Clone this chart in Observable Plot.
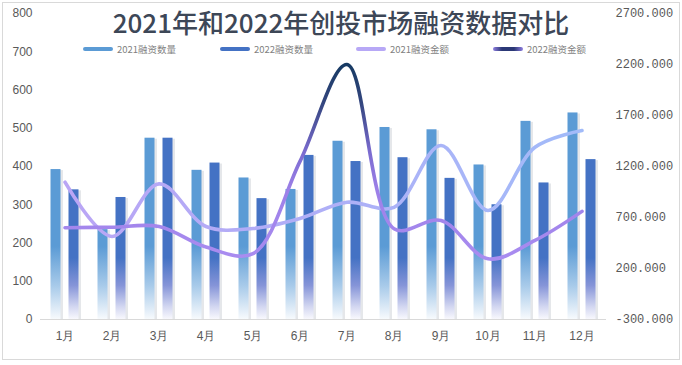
<!DOCTYPE html>
<html>
<head>
<meta charset="utf-8">
<script src="https://cdn.jsdelivr.net/npm/d3@7"></script>
<script src="https://cdn.jsdelivr.net/npm/@observablehq/plot@0.6"></script>
<style>
  html, body { margin: 0; padding: 0; background: #fff; }
  #wrap { position: relative; width: 682px; height: 365px; overflow: hidden; font-family: "Noto Sans CJK SC", "Noto Sans", sans-serif; }
  #border { position: absolute; left: 2px; top: 2px; width: 676px; height: 356px; border: 1px solid #d9d9d9; pointer-events: none; }
  #title { position: absolute; left: 0; width: 682px; top: 5px; text-align: center; font-size: 26px; font-weight: 500; color: #3d4757; line-height: 34px; }
  .lg { position: absolute; top: 41px; height: 16px; display: flex; align-items: center; font-size: 9.5px; color: #7f7f7f; white-space: nowrap; }
  .sw { width: 30px; height: 4px; border-radius: 2px; margin-right: 4px; }
  #chart { position: absolute; left: 0; top: 0; }
</style>
</head>
<body>
<div id="wrap">
  <div id="chart"></div>
  <div id="title">2021年和2022年创投市场融资数据对比</div>
  <div id="legend"></div>
  <div id="border"></div>
</div>
<script>
const months = ["1月","2月","3月","4月","5月","6月","7月","8月","9月","10月","11月","12月"];
const count2021 = [392, 235, 474, 390, 370, 340, 466, 502, 496, 404, 518, 540];
const count2022 = [339, 319, 474, 409, 316, 429, 413, 423, 369, 300, 357, 418];
const amount2021 = [1046, 514, 1030, 612, 592, 690, 850, 800, 1406, 769, 1389, 1553];
const amount2022 = [600, 605, 612, 410, 345, 1250, 2200, 590, 670, 295, 475, 760];
const leftTicks = [0, 100, 200, 300, 400, 500, 600, 700, 800];
const rightTicks = [-300, 200, 700, 1200, 1700, 2200, 2700];
const seriesNames = ["2021融资数量", "2022融资数量", "2021融资金额", "2022融资金额"];

// right axis [-300, 2700] is aligned to left axis [0, 800]
const rMin = -300, rMax = 2700, lMax = 800;
const toLeft = v => (v - rMin) * lMax / (rMax - rMin);

const data = months.map((m, i) => ({
  month: m, c21: count2021[i], c22: count2022[i], a21: amount2021[i], a22: amount2022[i]
}));

const axisFont = {fontSize: 12, fill: "#595959"};

const plot = Plot.plot({
  width: 682,
  height: 365,
  marginLeft: 40,
  marginRight: 76,
  marginTop: 13,
  marginBottom: 46,
  style: {fontFamily: "Liberation Sans, Arial, sans-serif", fontSize: "12px", color: "#595959", background: "transparent"},
  x: {type: "band", domain: months, padding: 0},
  y: {domain: [0, lMax]},
  marks: [
    // bar shadows
    Plot.barY(data, {x: "month", y: "c21", fill: "#c5cad1", fillOpacity: 0.45, insetLeft: 11.5, insetRight: 25, dy: 1}),
    Plot.barY(data, {x: "month", y: "c22", fill: "#c5cad1", fillOpacity: 0.45, insetLeft: 29.5, insetRight: 7, dy: 1}),
    Plot.barY(data, {x: "month", y: "c21", fill: "url(#g21)", insetLeft: 9.5, insetRight: 27.5}),
    Plot.barY(data, {x: "month", y: "c22", fill: "url(#g22)", insetLeft: 27.5, insetRight: 9.5}),
    Plot.ruleY([0], {stroke: "#d9d9d9", strokeWidth: 1}),
    Plot.line(data, {x: "month", y: d => toLeft(d.a21), stroke: "url(#l21)", strokeWidth: 3.6, curve: "catmull-rom", strokeLinecap: "round"}),
    Plot.line(data, {x: "month", y: d => toLeft(d.a22), stroke: "url(#l22)", strokeWidth: 3.6, curve: "catmull-rom", strokeLinecap: "round"}),
    Plot.axisY(leftTicks, {anchor: "left", tickSize: 0, tickPadding: 8, label: null, ...axisFont}),
    Plot.axisY(rightTicks.map(toLeft), {anchor: "right", tickSize: 0, tickPadding: 9, label: null,
      tickFormat: (d) => rightTicks[rightTicks.map(toLeft).indexOf(d)].toFixed(3),
      fontFamily: "Liberation Mono, DejaVu Sans Mono, monospace", ...axisFont}),
    Plot.axisX({anchor: "bottom", tickSize: 0, tickPadding: 12, label: null, ...axisFont})
  ]
});

document.getElementById("chart").appendChild(plot);

// gradients (positions derived from the plot's scales)
const ys = plot.scale("y");
const xs = plot.scale("x");
const defs = d3.select(plot).insert("defs", ":first-child");
function grad(id, x1, y1, x2, y2, stops) {
  const g = defs.append("linearGradient").attr("id", id).attr("gradientUnits", "userSpaceOnUse")
    .attr("x1", x1).attr("y1", y1).attr("x2", x2).attr("y2", y2);
  stops.forEach(([o, c]) => g.append("stop").attr("offset", o).attr("stop-color", c));
}
grad("g21", 0, ys.apply(190), 0, ys.apply(0), [[0, "#5b9bd5"], [0.55, "#a9cbea"], [1, "#f7fafd"]]);
grad("g22", 0, ys.apply(160), 0, ys.apply(0), [[0, "#4472c4"], [0.45, "#8594d8"], [0.8, "#d3d7f1"], [1, "#f8f8fd"]]);
const x0 = xs.range[0], x1 = xs.range[1];
grad("l21", x0, 0, x1, 0, [[0, "#baa5f5"], [0.5, "#aeb0f7"], [1, "#9fbdf9"]]);
grad("l22", 0, ys.apply(toLeft(2200)), 0, ys.apply(toLeft(300)),
  [[0, "#173a63"], [0.2, "#34467f"], [0.45, "#7a6bcf"], [0.65, "#9d80e8"], [1, "#a98cf0"]]);

// legend
const legendColors = ["#5b9bd5", "#4472c4", "#b7a8f6", "linear-gradient(90deg,#8f7ee0,#2b3876 30%,#2b3876 70%,#8f7ee0)"];
const legendX = [83, 220, 356, 493];
const lg = document.getElementById("legend");
seriesNames.forEach((name, i) => {
  const item = document.createElement("div");
  item.className = "lg";
  item.style.left = legendX[i] + "px";
  const sw = document.createElement("div");
  sw.className = "sw";
  sw.style.background = legendColors[i];
  item.appendChild(sw);
  const t = document.createElement("span");
  t.textContent = name;
  item.appendChild(t);
  lg.appendChild(item);
});
</script>
</body>
</html>
